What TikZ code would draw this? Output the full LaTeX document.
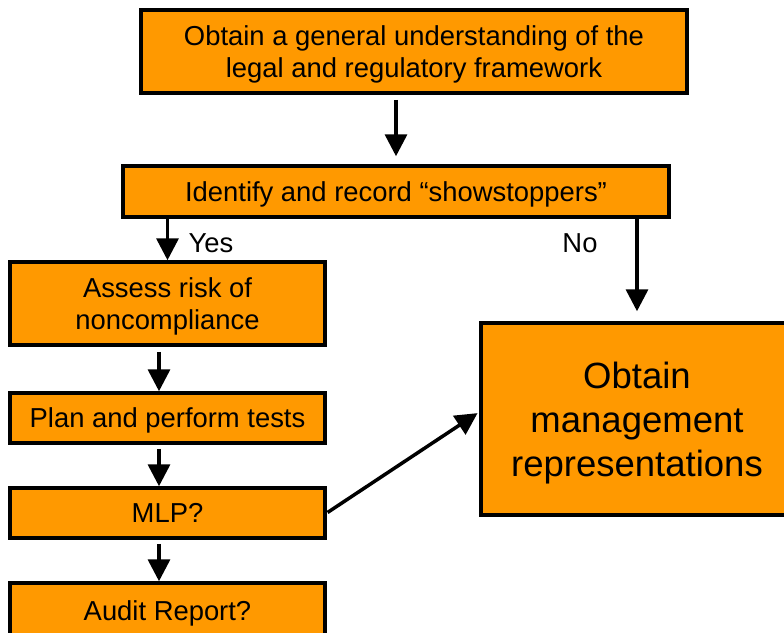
\documentclass[tikz,border=0pt]{standalone}
\usepackage{fontspec}
\setmainfont{Liberation Sans}
\usetikzlibrary{arrows.meta}
\definecolor{boxorange}{RGB}{255,153,0}

\begin{document}
\begin{tikzpicture}[x=1pt, y=-1pt,
	stepbox/.style={draw=black, line width=3.5pt, fill=boxorange, align=center,
		inner sep=0pt, text depth=0pt, font=\fontsize{27.4}{32}\selectfont},
	flow/.style={line width=3.5pt, -{Triangle[length=22pt, width=22pt]}},
	answer/.style={font=\fontsize{27.4}{32}\selectfont}]
	\useasboundingbox (0,0) rectangle (784,632);
	\clip (0,0) rectangle (784,632);

	% main line
	\node[stepbox, minimum width=546pt, minimum height=83pt] (frame) at (414,51.5)
		{Obtain a general understanding of the\\legal and regulatory framework};
	\node[stepbox, minimum width=546pt, minimum height=51pt] (stoppers) at (396,191.5)
		{Identify and record “showstoppers”};

	% yes branch
	\node[stepbox, minimum width=315pt, minimum height=83pt] (risk) at (167.5,303.5)
		{Assess risk of\\noncompliance};
	\node[stepbox, minimum width=315pt, minimum height=50pt] (tests) at (167.5,418)
		{Plan and perform tests};
	\node[stepbox, minimum width=315pt, minimum height=50pt] (mlp) at (167.5,513)
		{MLP?};
	\node[stepbox, minimum width=315pt, minimum height=56pt] (audit) at (167.5,611)
		{Audit Report?};

	% no branch
	\node[stepbox, minimum width=312pt, minimum height=192pt,
		font=\fontsize{36.5}{44}\selectfont] (reps) at (637,419)
		{Obtain\\management\\representations};

	\node[answer] (yes) at (211,243) {Yes};
	\node[answer] (no) at (580,243) {No};

	% arrows
	\draw[flow, shorten <=5pt, shorten >=8pt] (stoppers.north |- frame.south) -- (stoppers.north);
	\draw[flow] (risk.north |- stoppers.south) -- (risk.north);
	\draw[flow, shorten >=10pt] (reps.north |- stoppers.south) -- (reps.north);
	\draw[flow, shorten <=5pt] ([xshift=-8.5pt]risk.south) -- ([xshift=-8.5pt]tests.north);
	\draw[flow, shorten <=4pt] ([xshift=-8.5pt]tests.south) -- ([xshift=-8.5pt]mlp.north);
	\draw[flow, shorten <=4pt] ([xshift=-8.5pt]mlp.south) -- ([xshift=-8.5pt]audit.north);
	\draw[flow, shorten <=1pt, shorten >=2pt] (mlp.east) -- ([yshift=7pt]reps.west);
\end{tikzpicture}
\end{document}
